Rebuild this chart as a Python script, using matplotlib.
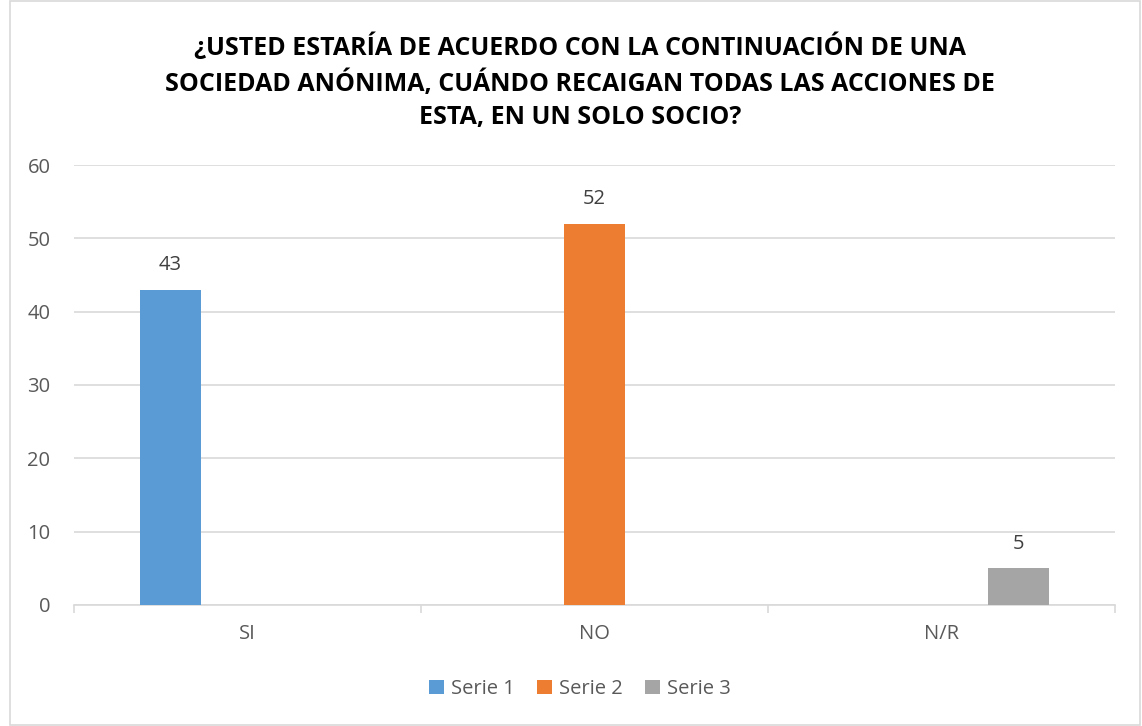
import matplotlib.pyplot as plt
import numpy as np
from matplotlib.patches import Rectangle

plt.rcParams['font.family'] = ['Open Sans', 'DejaVu Sans']

categorias = ['SI', 'NO', 'N/R']
series = ['Serie 1', 'Serie 2', 'Serie 3']
serie1 = [43, 0, 0]
serie2 = [0, 52, 0]
serie3 = [0, 0, 5]
colores = ['#5b9bd5', '#ed7d31', '#a5a5a5']

titulo = ('¿USTED ESTARÍA DE ACUERDO CON LA CONTINUACIÓN DE UNA\n'
          'SOCIEDAD ANÓNIMA, CUÁNDO RECAIGAN TODAS LAS ACCIONES DE\n'
          'ESTA, EN UN SOLO SOCIO?')

gris = '#595959'

fig = plt.figure(figsize=(11.42, 7.26), dpi=100)
ax = fig.add_axes([0.0648, 0.1667, 0.9116, 0.606])

x = np.arange(len(categorias))
ancho = 0.176
desp = 0.222
for i, (vals, nombre, col) in enumerate(zip([serie1, serie2, serie3], series, colores)):
    barras = ax.bar(x + (i - 1) * desp, vals, ancho, color=col, label=nombre, zorder=3)
    for b, v in zip(barras, vals):
        if v > 0:
            ax.text(b.get_x() + b.get_width() / 2, v + 2.0, str(v), ha='center', va='bottom',
                    fontsize=14.5, color='#404040')

ax.set_xlim(-0.5, 2.5)
ax.set_ylim(0, 60)
ax.set_yticks(range(0, 61, 10))
ax.grid(axis='y', color='#d9d9d9', linewidth=1.2, zorder=0)
for s in ['top', 'right', 'left']:
    ax.spines[s].set_visible(False)
ax.spines['bottom'].set_color('#d9d9d9')
ax.spines['bottom'].set_linewidth(1.2)

ax.set_xticks([-0.5, 0.5, 1.5, 2.5])
ax.set_xticklabels([])
ax.set_xticks(x, minor=True)
ax.set_xticklabels(categorias, minor=True)
ax.tick_params(axis='x', which='major', length=6, color='#d9d9d9', width=1.2)
ax.tick_params(axis='x', which='minor', length=0, pad=14, labelsize=14.5, labelcolor=gris)
ax.tick_params(axis='y', length=0, pad=17, labelsize=14.5, labelcolor=gris)

fig.text(0.508, 1 - 82 / 726, titulo, ha='center', va='center', fontsize=18, fontweight='bold',
         color='black', linespacing=1.45)

ax.legend(loc='center', bbox_to_anchor=(0.508, 1 - 689 / 726), bbox_transform=fig.transFigure,
          ncol=3, frameon=False, fontsize=14.5, labelcolor=gris, handlelength=0.75,
          handleheight=0.75, handletextpad=0.35, columnspacing=1.1)

fig.patches.append(Rectangle((10 / 1142, 0.002), 1130 / 1142, 0.996, transform=fig.transFigure,
                             fill=False, edgecolor='#d9d9d9', linewidth=1.2))

plt.savefig('out.png', dpi=100)
